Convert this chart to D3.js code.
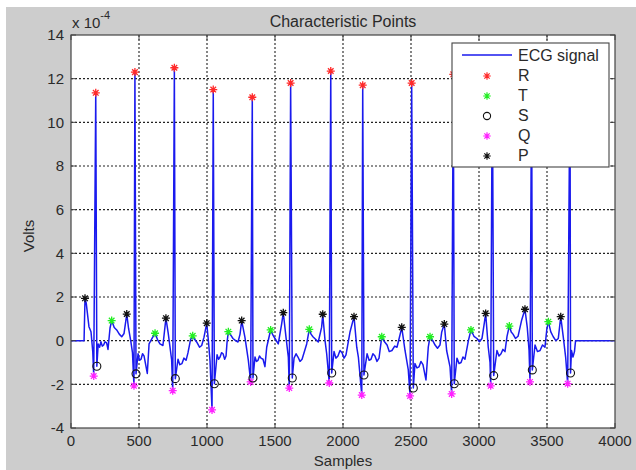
<!DOCTYPE html>
<meta charset='utf-8'>
<head>
    <title>Characteristic Points</title>
    <script src='https://d3js.org/d3.v7.min.js'></script>
</head>

<style>
    body { margin: 0; background: #fff; }
    svg text { font-family: Arial, 'Liberation Sans', sans-serif; fill: #2a2a2a; }
    .grid line { stroke: #222; stroke-width: 1.1; stroke-dasharray: 2, 2; }
    .tick-in { stroke: #444; stroke-width: 1; }
</style>

<svg></svg>

<script>

    // ECG trace: [sample, volts x 1e-4]
    var ecg = [
        [0, 0], [96, 0], [103, 1.94], [112, 1.72], [132, 0.64], [147, 0.41], [160, -0.5], [167, -1.62], [182, 11.35], [190, -1.17],
        [200, -0.15], [210, -0.3], [220, -0.05], [230, -0.25], [240, -0.2], [250, -0.05], [262, -0.1], [272, -0.4], [287, 0.58], [299, 0.92],
        [318, 0.6], [336, 0.49], [355, 0.3], [373, 0.18], [390, 0.33],
        [410, 1.22], [423, 0.57], [439, 0], [452, -0.55], [463, -2.07], [470, 12.3], [478, -1.52],
        [493, -0.6], [504, -0.9], [515, -0.85], [526, -0.6], [537, -0.7], [561, -1.5], [574, -0.15], [596, 0.1], [618, 0.34], [636, 0.05], [654, -0.15], [676, -0.22],
        [698, 1.03], [715, 0.33], [740, -0.88], [748, -2.29], [760, 12.5], [767, -1.74],
        [787, -0.85], [800, -1.1], [816, -1.05], [830, -0.8], [846, -0.9], [860, -0.56], [879, 0.05], [895, 0.22], [910, 0.05], [924, -0.06], [945, -0.3], [961, -0.22], [978, 0.16],
        [998, 0.8], [1011, -0.05], [1022, -0.9], [1037, -3.17], [1046, 11.5], [1054, -1.97],
        [1074, -0.65], [1085, -0.85], [1096, -0.75], [1107, -0.55], [1118, -0.6], [1130, -0.85], [1140, -0.7], [1147, -0.1], [1157, 0.41], [1175, 0.25], [1191, 0.1], [1210, 0.0], [1228, -0.06], [1243, 0.3],
        [1255, 0.92], [1279, 0.15], [1304, -0.9], [1321, -1.89], [1333, 11.15], [1338, -1.71],
        [1353, -0.75], [1364, -0.95], [1375, -0.9], [1386, -0.7], [1397, -0.8], [1412, -0.85], [1426, -1.19], [1439, -0.3], [1468, 0.49], [1485, 0.25], [1500, 0.1], [1524, -0.15], [1549, 0.77],
        [1561, 1.28], [1581, 0.15], [1598, -0.75], [1605, -2.17], [1615, 11.8], [1627, -1.71],
        [1640, -0.8], [1655, -0.6], [1669, -0.75], [1684, -0.95], [1699, -0.85], [1733, -0.15], [1752, 0.52], [1765, 0.3], [1779, 0.18], [1800, 0.05], [1818, -0.06], [1843, 0.62],
        [1851, 1.21], [1868, 0], [1880, -0.6], [1899, -1.94], [1910, 12.35], [1917, -1.48],
        [1934, -0.5], [1948, -0.8], [1963, -0.7], [1978, -0.45], [1993, -0.55], [2008, -0.8], [2022, -0.65], [2052, 0.41],
        [2081, 1.1], [2101, -0.3], [2113, -0.75], [2138, -2.49], [2145, 11.7], [2154, -1.57],
        [2177, -0.6], [2192, -0.9], [2206, -0.85], [2220, -0.6], [2235, -0.7], [2250, -0.95], [2265, -0.8], [2285, 0.18], [2305, -0.05], [2324, -0.2], [2340, -0.5], [2360, -0.45], [2380, -0.25], [2397, -0.3], [2419, 0.26],
        [2432, 0.61], [2456, -0.45], [2480, -1.34], [2493, -2.53], [2505, 11.8], [2517, -2.17],
        [2529, -1.05], [2544, -1.25], [2559, -1.2], [2573, -0.95], [2588, -1.1], [2610, -1.8], [2627, -0.3], [2640, 0.18], [2660, 0.0], [2677, -0.2], [2695, -0.35], [2713, -0.2], [2726, 0.4],
        [2745, 0.76], [2762, -0.45], [2787, -1.2], [2799, -2.44], [2811, 12.2], [2818, -1.97],
        [2838, -0.8], [2853, -1.05], [2868, -1.0], [2882, -0.75], [2897, -0.85], [2922, 0], [2941, 0.49], [2963, 0.2], [2985, 0.1], [3003, -0.05], [3022, 0.1], [3039, 0.8],
        [3049, 1.25], [3068, -0.3], [3081, -1.0], [3086, -2.07], [3098, 12.4], [3108, -1.6],
        [3132, -0.45], [3147, -0.7], [3162, -0.6], [3176, -0.4], [3191, -0.5], [3206, 0.2], [3223, 0.67], [3237, 0.4], [3250, 0.3], [3268, 0.1], [3287, 0.2], [3314, 0.95],
        [3338, 1.44], [3355, 0.6], [3368, -0.45], [3375, -1.89], [3387, 12.6], [3392, -1.34],
        [3412, -0.2], [3430, -0.5], [3449, -0.45], [3467, -0.2], [3485, -0.3], [3498, 0.49], [3510, 0.87], [3528, 0.4], [3546, 0.18], [3565, 0.0], [3583, 0.1],
        [3601, 1.1], [3620, 0.15], [3637, -0.75], [3652, -1.97], [3669, 12.1], [3673, -1.48],
        [3680, -0.45], [3691, -0.75], [3702, -0.5], [3710, 0], [4000, 0]
    ];

    var rPoints = [[182, 11.35], [470, 12.3], [760, 12.5], [1046, 11.5], [1333, 11.15], [1615, 11.8], [1910, 12.35],
        [2145, 11.7], [2505, 11.8], [2811, 12.2], [3098, 12.4], [3387, 12.6], [3669, 12.1]];
    var tPoints = [[299, 0.92], [618, 0.34], [895, 0.22], [1157, 0.41], [1468, 0.49], [1752, 0.52],
        [2285, 0.18], [2640, 0.18], [2941, 0.49], [3223, 0.67], [3510, 0.87]];
    var sPoints = [[190, -1.17], [478, -1.52], [767, -1.74], [1054, -1.97], [1338, -1.71], [1627, -1.71], [1917, -1.48],
        [2154, -1.57], [2517, -2.17], [2818, -1.97], [3108, -1.6], [3392, -1.34], [3673, -1.48]];
    var qPoints = [[167, -1.62], [463, -2.07], [748, -2.29], [1037, -3.17], [1321, -1.89], [1605, -2.17], [1899, -1.94],
        [2138, -2.49], [2493, -2.53], [2799, -2.44], [3086, -2.07], [3375, -1.89], [3652, -1.97]];
    var pPoints = [[103, 1.94], [410, 1.22], [698, 1.03], [998, 0.8], [1255, 0.92], [1561, 1.28], [1851, 1.21],
        [2081, 1.1], [2432, 0.61], [2745, 0.76], [3049, 1.25], [3338, 1.44], [3601, 1.1]];

    var xTicks = [0, 500, 1000, 1500, 2000, 2500, 3000, 3500, 4000];
    var yTicks = [-4, -2, 0, 2, 4, 6, 8, 10, 12, 14];
    var legendNames = ['ECG signal', 'R', 'T', 'S', 'Q', 'P'];

    // physical space setup
    var vWidth = 636, vHeight = 470;
    var pLeft = 71, pRight = 615, pTop = 35, pBottom = 428;

    var svg = d3.select('svg').attr('width', vWidth).attr('height', vHeight);
    svg.append('rect').attr('x', 6).attr('y', 7).attr('width', vWidth - 6).attr('height', vHeight - 7).attr('fill', '#cdcdcd');

    var x = d3.scaleLinear().domain([0, 4000]).range([pLeft, pRight]);
    var y = d3.scaleLinear().domain([-4, 14]).range([pBottom, pTop]);

    svg.append('rect').attr('x', pLeft).attr('y', pTop).attr('width', pRight - pLeft).attr('height', pBottom - pTop).attr('fill', '#fff');

    // dotted grid
    var grid = svg.append('g').attr('class', 'grid');
    grid.selectAll('.gx').data(xTicks.slice(1, -1)).enter().append('line')
        .attr('x1', function (d) { return x(d); }).attr('x2', function (d) { return x(d); })
        .attr('y1', pTop).attr('y2', pBottom);
    grid.selectAll('.gy').data(yTicks.slice(1, -1)).enter().append('line')
        .attr('y1', function (d) { return y(d); }).attr('y2', function (d) { return y(d); })
        .attr('x1', pLeft).attr('x2', pRight);

    // signal
    var line = d3.line().x(function (d) { return x(d[0]); }).y(function (d) { return y(d[1]); });
    svg.append('path').datum(ecg).attr('d', line)
        .attr('fill', 'none').attr('stroke', '#1a1aee').attr('stroke-width', 1.5).attr('stroke-linejoin', 'round');

    // markers
    function starPath(s) {
        var k = s * 0.7;
        return 'M' + (-s) + ',0L' + s + ',0M0,' + (-s) + 'L0,' + s +
            'M' + (-k) + ',' + (-k) + 'L' + k + ',' + k + 'M' + (-k) + ',' + k + 'L' + k + ',' + (-k);
    }
    function drawStars(data, color) {
        svg.append('g').selectAll('path').data(data).enter().append('path')
            .attr('transform', function (d) { return 'translate(' + x(d[0]) + ',' + y(d[1]) + ')'; })
            .attr('d', starPath(4)).attr('stroke', color).attr('stroke-width', 1.3).attr('fill', 'none');
    }
    drawStars(rPoints, '#ff2a2a');
    drawStars(tPoints, '#22ee22');
    drawStars(qPoints, '#ff22ff');
    drawStars(pPoints, '#111');
    svg.append('g').selectAll('circle').data(sPoints).enter().append('circle')
        .attr('cx', function (d) { return x(d[0]); }).attr('cy', function (d) { return y(d[1]); })
        .attr('r', 4).attr('fill', 'none').attr('stroke', '#111').attr('stroke-width', 1.1);

    // axes box + inward ticks
    var ticks = svg.append('g');
    xTicks.forEach(function (d) {
        ticks.append('line').attr('class', 'tick-in').attr('x1', x(d)).attr('x2', x(d)).attr('y1', pBottom).attr('y2', pBottom - 5);
        ticks.append('line').attr('class', 'tick-in').attr('x1', x(d)).attr('x2', x(d)).attr('y1', pTop).attr('y2', pTop + 5);
    });
    yTicks.forEach(function (d) {
        ticks.append('line').attr('class', 'tick-in').attr('x1', pLeft).attr('x2', pLeft + 5).attr('y1', y(d)).attr('y2', y(d));
        ticks.append('line').attr('class', 'tick-in').attr('x1', pRight).attr('x2', pRight - 5).attr('y1', y(d)).attr('y2', y(d));
    });
    svg.append('rect').attr('x', pLeft).attr('y', pTop).attr('width', pRight - pLeft).attr('height', pBottom - pTop)
        .attr('fill', 'none').attr('stroke', '#444').attr('stroke-width', 1.2);

    // tick labels
    svg.append('g').selectAll('text').data(xTicks).enter().append('text')
        .attr('x', function (d) { return x(d); }).attr('y', 446).attr('text-anchor', 'middle')
        .style('font-size', '15px').text(function (d) { return d; });
    svg.append('g').selectAll('text').data(yTicks).enter().append('text')
        .attr('x', 64).attr('y', function (d) { return y(d) + 5.3; }).attr('text-anchor', 'end')
        .style('font-size', '15px').text(function (d) { return d; });

    // labels
    svg.append('text').attr('x', 343).attr('y', 466).attr('text-anchor', 'middle').style('font-size', '15px').text('Samples');
    svg.append('text').attr('transform', 'translate(34,236) rotate(-90)').attr('text-anchor', 'middle')
        .style('font-size', '15px').text('Volts');
    svg.append('text').attr('x', 343).attr('y', 27).attr('text-anchor', 'middle').style('font-size', '16px').text('Characteristic Points');
    var exp = svg.append('text').attr('x', 72).attr('y', 28).style('font-size', '15px');
    exp.append('tspan').text('x 10');
    exp.append('tspan').attr('dy', -9).style('font-size', '11px').text('-4');

    // legend
    var lg = svg.append('g');
    lg.append('rect').attr('x', 452).attr('y', 43).attr('width', 157).attr('height', 124)
        .attr('fill', '#fff').attr('stroke', '#444').attr('stroke-width', 1.1);
    lg.append('line').attr('x1', 462).attr('x2', 512).attr('y1', 55).attr('y2', 55)
        .attr('stroke', '#1a1aee').attr('stroke-width', 1.3);
    var lgColors = ['#ff2a2a', '#22ee22', null, '#ff22ff', '#111'];
    lgColors.forEach(function (c, i) {
        var cy = 76 + i * 20;
        if (c) {
            lg.append('path').attr('transform', 'translate(487,' + cy + ')').attr('d', starPath(3.8))
                .attr('stroke', c).attr('stroke-width', 1.2).attr('fill', 'none');
        } else {
            lg.append('circle').attr('cx', 487).attr('cy', cy).attr('r', 3.6)
                .attr('fill', 'none').attr('stroke', '#111').attr('stroke-width', 1.1);
        }
    });
    lg.selectAll('text').data(legendNames).enter().append('text')
        .attr('x', 518).attr('y', function (d, i) { return 61 + i * 20; })
        .style('font-size', '16px').text(function (d) { return d; });
</script>
